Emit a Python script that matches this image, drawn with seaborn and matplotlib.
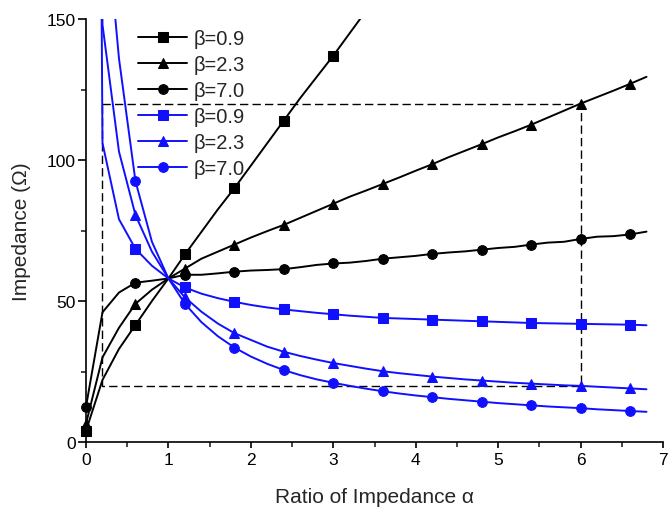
import numpy as np
import pandas as pd
import matplotlib
matplotlib.use("Agg")
import matplotlib.pyplot as plt
from matplotlib.transforms import Bbox, TransformedBbox
import seaborn as sns

# ---- data ----
alpha = [0.0, 0.2, 0.4, 0.6, 0.8, 1.0, 1.2, 1.4, 1.6, 1.8, 2.0, 2.2, 2.4, 2.6, 2.8,
         3.0, 3.2, 3.4, 3.6, 3.8, 4.0, 4.2, 4.4, 4.6, 4.8, 5.0, 5.2, 5.4, 5.6, 5.8,
         6.0, 6.2, 6.4, 6.6, 6.8]

black_b09 = [4.0, 22, 33, 41.5, 50, 58, 66.5, 74.5, 82.5, 90, 98, 106, 114, 122, 129.5,
             137, 145, 153]
black_b23 = [6.5, 30, 40.5, 49, 54, 58, 61.5, 65, 67.5, 70, 72.5, 74.8, 77, 79.5, 82,
             84.5, 87, 89.2, 91.5, 93.8, 96.2, 98.5, 101, 103.3, 105.6, 108, 110.2, 112.5,
             115, 117.5, 120, 122.3, 124.6, 127, 129.5]
black_b70 = [12.5, 46, 53, 56.5, 57.2, 58, 59.3, 59.3, 59.8, 60.4, 60.8, 61, 61.3, 62, 62.8,
             63.3, 63.6, 64.2, 65, 65.5, 66, 66.7, 67.2, 67.6, 68.2, 68.8, 69.2, 70,
             70.7, 71, 72, 72.8, 73, 73.6, 74.6]
blue_b09 = [1000, 106, 79, 68.5, 62.5, 58, 54.8, 52.6, 51, 49.7, 48.6, 47.7, 47, 46.4, 45.8,
            45.3, 44.8, 44.4, 44, 43.8, 43.6, 43.4, 43.2, 43, 42.8, 42.6, 42.4, 42.2,
            42.1, 42, 41.9, 41.8, 41.7, 41.6, 41.4]
blue_b23 = [1000, 148, 103, 80.5, 67.5, 58, 51.3, 46.2, 42, 38.6, 36.2, 33.8, 32, 30.5, 29.2,
            28, 27, 26, 25.1, 24.4, 23.8, 23.2, 22.7, 22.2, 21.8, 21.4, 21, 20.7, 20.4,
            20.1, 19.9, 19.6, 19.3, 19, 18.7]
blue_b70 = [1000, 200, 136, 92.5, 71, 58, 49, 42.5, 37.5, 33.5, 30.3, 27.7, 25.5, 23.7, 22.2,
            21, 19.9, 18.9, 18, 17.2, 16.5, 15.9, 15.3, 14.8, 14.3, 13.8, 13.4, 13, 12.6,
            12.3, 12, 11.6, 11.3, 11, 10.7]

series_labels = ["β=0.9", "β=2.3", "β=7.0", "β=0.9", "β=2.3", "β=7.0"]

# dashed guide box (alpha range and impedance range)
guide_alpha = [0.2, 6.0]
guide_imp = [20, 120]

x_ticks = [0, 1, 2, 3, 4, 5, 6, 7]
y_ticks = [0, 50, 100, 150]

# ---- style ----
sns.set_style("ticks")
plt.rcParams['font.family'] = ['Liberation Sans', 'DejaVu Sans']

fig = plt.figure(figsize=(6.68, 5.10), dpi=100)
ax = fig.add_axes([86 / 668, 67 / 510, 577 / 668, 423 / 510])

series = [
    (black_b09, "black", "s", 6.5),
    (black_b23, "black", "^", 7.5),
    (black_b70, "black", "o", 7.0),
    (blue_b09, "#1010ff", "s", 6.5),
    (blue_b23, "#1010ff", "^", 7.5),
    (blue_b70, "#1010ff", "o", 7.0),
]

# clip box slightly wider than the axes so markers at alpha=0 are not cut in half
clip_bb = TransformedBbox(Bbox([[-0.03, -0.03], [1.03, 1.0]]), ax.transAxes)

for (vals, col, mk, ms), lab in zip(series, series_labels):
    df = pd.DataFrame({"alpha": alpha[:len(vals)], "Z": vals})
    n_before = len(ax.lines)
    sns.lineplot(data=df, x="alpha", y="Z", ax=ax, color=col, marker=mk,
                 markersize=ms, markeredgecolor=col, markerfacecolor=col,
                 markevery=3, linewidth=1.4, label=lab, estimator=None,
                 sort=False)
    for ln in ax.lines[n_before:]:
        ln.set_clip_box(clip_bb)

# dashed guide rectangle
gx = [guide_alpha[0], guide_alpha[1], guide_alpha[1], guide_alpha[0], guide_alpha[0]]
gy = [guide_imp[1], guide_imp[1], guide_imp[0], guide_imp[0], guide_imp[1]]
ax.plot(gx, gy, color="black", linewidth=1.0, linestyle=(0, (6, 3)), zorder=1)

ax.set_xlim(0, 7)
ax.set_ylim(0, 150)
ax.set_xticks(x_ticks)
ax.set_yticks(y_ticks)
ax.set_xticks(np.arange(0.5, 7, 1.0), minor=True)
ax.set_yticks([25, 75, 125], minor=True)

sns.despine(ax=ax)
for s in ["left", "bottom"]:
    ax.spines[s].set_linewidth(1.2)
    ax.spines[s].set_color("black")

ax.tick_params(axis="both", which="major", direction="out", width=1.2,
               labelsize=12.5, colors="black")
ax.tick_params(axis="x", which="major", length=4.5, pad=3)
ax.tick_params(axis="y", which="major", length=6, pad=1.5)
ax.tick_params(axis="both", which="minor", direction="out", width=1.2, length=3.5)

ax.set_xlabel("Ratio of Impedance α", fontsize=15, labelpad=14)
ax.set_ylabel("Impedance (Ω)", fontsize=15, labelpad=11)

leg = ax.legend(loc="upper left", bbox_to_anchor=(0.09, 0.977), frameon=False,
                fontsize=14.5, handlelength=2.45, handletextpad=0.3,
                labelspacing=0.35, borderpad=0, borderaxespad=0)

fig.savefig("out.png", dpi=100)
